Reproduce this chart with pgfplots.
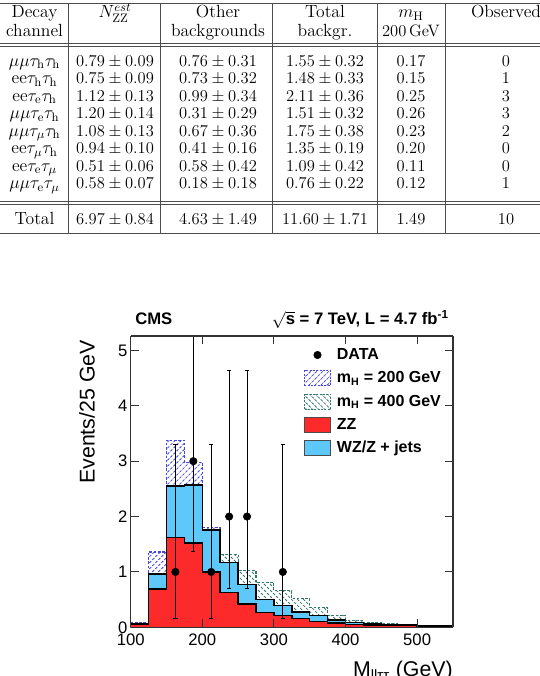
\documentclass[border=0pt]{standalone}
\usepackage{fix-cm}
\usepackage{fontspec}
\usepackage{pgfplots}
\pgfplotsset{compat=1.18}
\usetikzlibrary{patterns.meta}
\newfontfamily\hv{Liberation Sans}
\definecolor{zzred}{RGB}{252,42,42}
\definecolor{wzblue}{RGB}{95,200,250}
\definecolor{hblue}{RGB}{70,70,220}
\definecolor{hgreen}{RGB}{50,120,110}
\newcommand\W[1]{{\fontsize{13.2}{15}\selectfont #1}}
\newcommand\trow[7]{%
  \node at (34.5,676-#1-4.7) {\W{#2}};
  \node at (115,676-#1-4.7) {#3};
  \node at (218,676-#1-4.7) {#4};
  \node at (325,676-#1-4.7) {#5};
  \node at (411,676-#1-4.7) {#6};
  \node at (506,676-#1-4.7) {#7};}
\begin{document}
\begin{tikzpicture}[x=0.75pt,y=0.75pt]
\path[use as bounding box] (0,0) rectangle (540,676);
% ---------------- table ----------------
\begin{scope}[every node/.style={inner sep=0pt, anchor=base, font=\fontsize{12.4}{14}\selectfont}]
\draw[line width=0.65pt, black!70] (0,676-3) -- (545,676-3);
\draw[line width=0.65pt, black!70] (0,676-43.5) -- (545,676-43.5);
\draw[line width=0.65pt, black!70] (0,676-46.5) -- (545,676-46.5);
\draw[line width=0.65pt, black!70] (0,676-201.5) -- (545,676-201.5);
\draw[line width=0.65pt, black!70] (0,676-204.5) -- (545,676-204.5);
\draw[line width=0.65pt, black!70] (0,676-233) -- (545,676-233);
\foreach \xx in {68,160,272,377,445}
  \draw[line width=0.65pt, black!70] (\xx,676-3) -- (\xx,676-233);
\trow{13}{Decay}{\W{$N^{est}_{\mathrm{ZZ}}$}}{\W{Other}}{\W{Total}}{\W{$m_\mathrm{H}$}}{\W{Observed}}
\trow{32}{channel}{}{\W{backgrounds}}{\W{backgr.}}{200\,GeV}{}
\trow{61.5}{$\mu\mu\tau_\mathrm{h}\tau_\mathrm{h}$}{$0.79\pm0.09$}{$0.76\pm0.31$}{$1.55\pm0.32$}{0.17}{0}
\trow{79}{$\mathrm{ee}\tau_\mathrm{h}\tau_\mathrm{h}$}{$0.75\pm0.09$}{$0.73\pm0.32$}{$1.48\pm0.33$}{0.15}{1}
\trow{96.5}{$\mathrm{ee}\tau_\mathrm{e}\tau_\mathrm{h}$}{$1.12\pm0.13$}{$0.99\pm0.34$}{$2.11\pm0.36$}{0.25}{3}
\trow{114}{$\mu\mu\tau_\mathrm{e}\tau_\mathrm{h}$}{$1.20\pm0.14$}{$0.31\pm0.29$}{$1.51\pm0.32$}{0.26}{3}
\trow{131.5}{$\mu\mu\tau_\mu\tau_\mathrm{h}$}{$1.08\pm0.13$}{$0.67\pm0.36$}{$1.75\pm0.38$}{0.23}{2}
\trow{149}{$\mathrm{ee}\tau_\mu\tau_\mathrm{h}$}{$0.94\pm0.10$}{$0.41\pm0.16$}{$1.35\pm0.19$}{0.20}{0}
\trow{166.5}{$\mathrm{ee}\tau_\mathrm{e}\tau_\mu$}{$0.51\pm0.06$}{$0.58\pm0.42$}{$1.09\pm0.42$}{0.11}{0}
\trow{184}{$\mu\mu\tau_\mathrm{e}\tau_\mu$}{$0.58\pm0.07$}{$0.18\pm0.18$}{$0.76\pm0.22$}{0.12}{1}
\trow{219.5}{Total}{$6.97\pm0.84$}{$4.63\pm1.49$}{$11.60\pm1.71$}{1.49}{10}
\end{scope}
% ---------------- chart texts ----------------
\node[anchor=base west, inner sep=0pt, font=\hv\bfseries\fontsize{12.5}{14}\selectfont] at (135,676-325) {CMS};
\node[anchor=base east, inner sep=0pt, font=\hv\bfseries\fontsize{12.5}{14}\selectfont] at (449,676-325) {$\sqrt{\mbox{s}}$ = 7 TeV, L = 4.7 fb\textsuperscript{-1}};
\node[rotate=90, inner sep=0pt, font=\hv\fontsize{16}{18}\selectfont] at (87,676-412) {Events/25 GeV};
\node[anchor=base east, inner sep=0pt, font=\hv\fontsize{16}{18}\selectfont] at (453,-1) {M\textsubscript{llττ} (GeV)};
% ---------------- axis ----------------
\begin{axis}[
  at={(98.0pt,36.5pt)}, anchor=south west,
  scale only axis, width=241.7pt, height=218.5pt,
  xmin=100, xmax=550, ymin=0, ymax=5.26,
  xtick={100,200,300,400,500}, ytick={0,1,2,3,4,5},
  minor tick num=0,
  tick align=inside, major tick length=6pt,
  separate axis lines, axis line style={line width=1.1pt, black!80},
  every tick/.style={line width=0.8pt, black!80},
  axis on top,
  ticklabel style={font=\hv\fontsize{12.5}{14}\selectfont},
  xticklabel style={yshift=-1.5pt},
  yticklabel style={xshift=1pt},
  /pgf/number format/assume math mode=true,
  /pgf/number format/1000 sep={},
  legend style={at={(0.525,0.978)}, anchor=north west, draw=none, fill=none,
     font=\hv\bfseries\fontsize{12}{14}\selectfont, row sep=3pt, column sep=3pt,
     nodes={inner sep=1.5pt, text height=9pt, text depth=2.5pt}},
  legend cell align=left,
]
\addlegendimage{legend image code/.code={\fill[black] (9.75pt,0pt) circle (2.8pt);}}
\addlegendentry{DATA}
\addlegendimage{legend image code/.code={\draw[hblue, line width=0.6pt, dash pattern=on 1.5pt off 1pt, pattern={Lines[angle=45,distance=3.2pt,line width=0.6pt]}, pattern color=hblue] (0pt,-5.6pt) rectangle (19.5pt,5.6pt);}}
\addlegendentry{m\textsubscript{H} = 200 GeV}
\addlegendimage{legend image code/.code={\draw[hgreen, line width=0.6pt, dash pattern=on 1.5pt off 1pt, pattern={Lines[angle=-45,distance=3.2pt,line width=0.6pt]}, pattern color=hgreen] (0pt,-5.6pt) rectangle (19.5pt,5.6pt);}}
\addlegendentry{m\textsubscript{H} = 400 GeV}
\addlegendimage{legend image code/.code={\draw[black!70, line width=0.6pt, fill=zzred] (0pt,-5.6pt) rectangle (19.5pt,5.6pt);}}
\addlegendentry{ZZ}
\addlegendimage{legend image code/.code={\draw[black!70, line width=0.6pt, fill=wzblue] (0pt,-5.6pt) rectangle (19.5pt,5.6pt);}}
\addlegendentry{WZ/Z + jets}
% mH = 400 GeV signal stacked on background
\addplot[const plot, forget plot, draw=hgreen, line width=0.8pt, dash pattern=on 2pt off 1.2pt,
  pattern={Lines[angle=-45,distance=3.2pt,line width=0.6pt]}, pattern color=hgreen]
  coordinates {(100,0.07) (125,0.96) (150,2.55) (175,2.57) (200,1.76) (225,1.31) (250,1.02)
  (275,0.81) (300,0.66) (325,0.52) (350,0.36) (375,0.22) (400,0.13) (425,0.09) (450,0.07)
  (475,0.05) (500,0.04) (525,0.035) (550,0.035)} \closedcycle;
% mH = 200 GeV signal stacked on background
\addplot[const plot, forget plot, draw=hblue, line width=0.8pt, dash pattern=on 2pt off 1.2pt,
  pattern={Lines[angle=45,distance=3.2pt,line width=0.6pt]}, pattern color=hblue]
  coordinates {(100,0.08) (125,1.36) (150,3.38) (175,2.98) (200,1.81) (225,1.17) (250,0.77)
  (275,0.50) (300,0.39) (325,0.28) (350,0.21) (375,0.13) (400,0.09) (425,0.07) (450,0.05)
  (475,0.04) (500,0.035) (525,0.03) (550,0.03)} \closedcycle;
% total background (ZZ + WZ/Z+jets)
\addplot[const plot, forget plot, draw=black, line width=1.1pt, fill=wzblue]
  coordinates {(100,0.07) (125,0.96) (150,2.55) (175,2.57) (200,1.76) (225,1.17) (250,0.77)
  (275,0.50) (300,0.39) (325,0.28) (350,0.21) (375,0.13) (400,0.09) (425,0.07) (450,0.05)
  (475,0.04) (500,0.035) (525,0.03) (550,0.03)} \closedcycle;
% ZZ
\addplot[const plot, forget plot, draw=black, line width=1.1pt, fill=zzred]
  coordinates {(100,0.05) (125,0.69) (150,1.62) (175,1.52) (200,1.00) (225,0.63) (250,0.42)
  (275,0.27) (300,0.21) (325,0.16) (350,0.11) (375,0.08) (400,0.05) (425,0.04) (450,0.035)
  (475,0.03) (500,0.025) (525,0.02) (550,0.02)} \closedcycle;
% data
\addplot[forget plot, only marks, mark=*, mark size=2.8pt, black,
  error bars/.cd, y dir=both, y explicit,
  error bar style={line width=0.6pt, black},
  error mark options={rotate=90, mark size=1.6pt, line width=0.6pt}]
  coordinates {
  (162.5,1) += (0,2.30) -= (0,0.83)
  (187.5,3) += (0,2.92) -= (0,1.63)
  (212.5,1) += (0,2.30) -= (0,0.83)
  (237.5,2) += (0,2.64) -= (0,1.29)
  (262.5,2) += (0,2.64) -= (0,1.29)
  (312.5,1) += (0,2.30) -= (0,0.83)};
\end{axis}
\end{tikzpicture}
\end{document}
